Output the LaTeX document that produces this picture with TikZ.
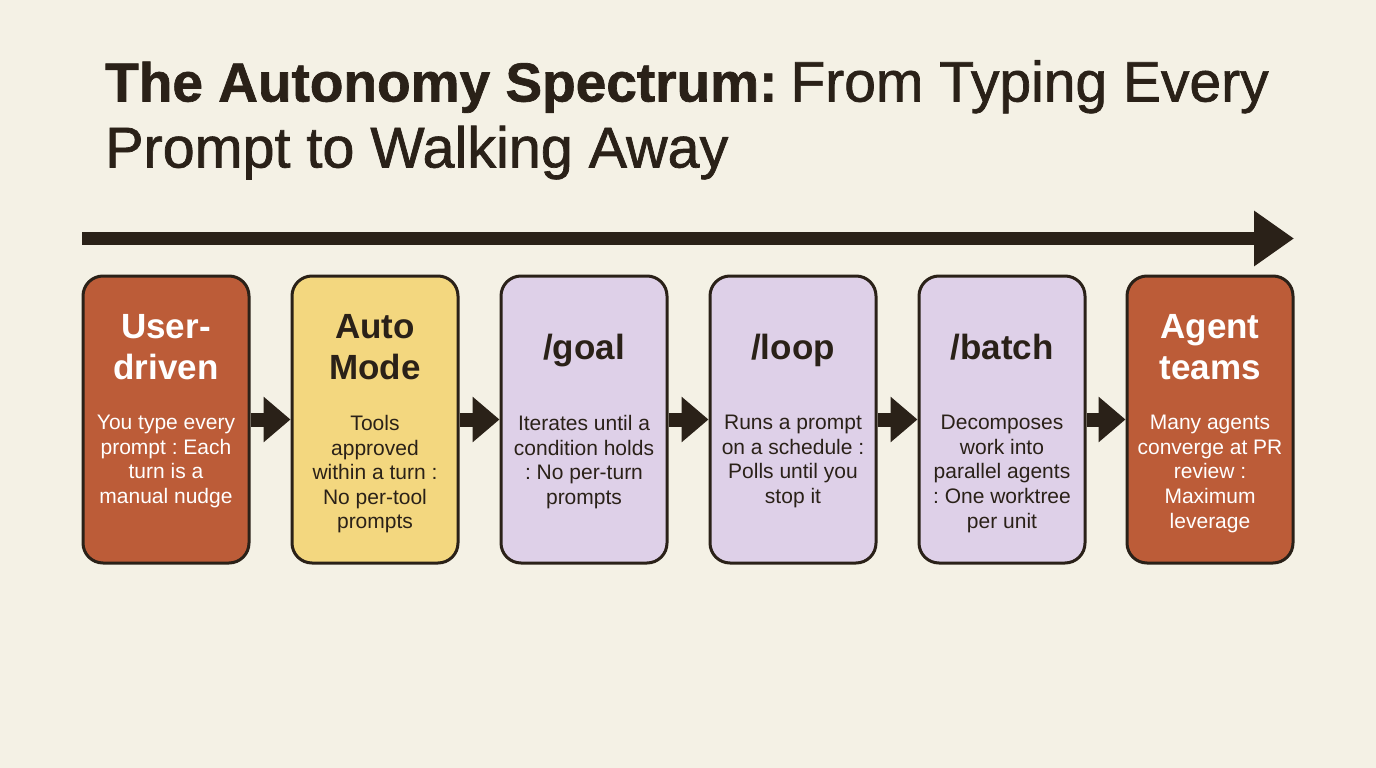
\documentclass[tikz,border=0pt]{standalone}
\usepackage{fontspec}
\setmainfont{Liberation Sans}
\newfontfamily\mediumface[FakeBold=1.2]{Liberation Sans}
\usetikzlibrary{arrows.meta}
\definecolor{paper}{HTML}{F4F1E5}
\definecolor{ink}{HTML}{2A2118}
\definecolor{rust}{HTML}{BC5C38}
\definecolor{butter}{HTML}{F3D77F}
\definecolor{lilac}{HTML}{DED0E8}

\begin{document}
\frenchspacing
\begin{tikzpicture}[x=1pt,y=-1pt,
    card/.style={draw=ink,line width=3pt,rounded corners=20pt,minimum width=166pt,minimum height=287pt,inner sep=0pt},
    head/.style={align=center,font=\fontsize{35}{40.5}\selectfont\bfseries,inner sep=0pt,execute at begin node=\strut,execute at end node=\strut},
    blurb/.style={align=center,anchor=north,font=\fontsize{21}{24.6}\selectfont,inner sep=0pt},
    title/.style={align=left,anchor=north west,text=ink,inner sep=0pt,font=\fontsize{57.5}{66}\selectfont\mediumface},
    step arrow/.style={draw=ink,line width=14pt,-{Triangle[length=27pt,width=44pt]}},
    ]
    \fill[paper] (0,0) rectangle (1376,768);
    \node[title] (heading) at (105,60) {{\fontsize{55}{66}\selectfont\bfseries The Autonomy Spectrum:}\hspace{-3pt} {\fontsize{57}{66}\selectfont From Typing Every}\\Prompt to Walking Away};
    % spectrum arrow
    \coordinate (spectrumstart) at (82,238.5);
    \coordinate (spectrumend) at (1294,238.5);
    \draw[ink,line width=13pt,-{Triangle[length=40pt,width=53pt]}] (spectrumstart) -- (spectrumend);
    % cards
    \node[card,fill=rust] (user) at (166,419.5) {};
    \node[card,fill=butter] (auto) at (375,419.5) {};
    \node[card,fill=lilac] (goal) at (584,419.5) {};
    \node[card,fill=lilac] (loop) at (793,419.5) {};
    \node[card,fill=lilac] (batch) at (1002,419.5) {};
    \node[card,fill=rust] (teams) at (1210,419.5) {};
    % headings
    \node[head,text=white] (userhead) at (166,353) {User-\\driven};
    \node[head,text=ink] (autohead) at (375,353) {Auto\\Mode};
    \node[head,text=ink] (goalhead) at (584,351) {/goal};
    \node[head,text=ink] (loophead) at (793,351) {/loop};
    \node[head,text=ink] (batchhead) at (1002,351) {/batch};
    \node[head,text=white] (teamshead) at (1210,353) {Agent\\teams};
    % descriptions
    \node[blurb,text=white] (userblurb) at (166,415) {You type every\\prompt : Each\\turn is a\\manual nudge};
    \node[blurb,text=ink] (autoblurb) at (375,415) {Tools\\approved\\within a turn :\\No per-tool\\prompts};
    \node[blurb,text=ink] (goalblurb) at (584,415) {Iterates until a\\condition holds\\: No per-turn\\prompts};
    \node[blurb,text=ink] (loopblurb) at (793,415) {Runs a prompt\\on a schedule :\\Polls until you\\stop it};
    \node[blurb,text=ink] (batchblurb) at (1002,415) {Decomposes\\work into\\parallel agents\\: One worktree\\per unit};
    \node[blurb,text=white] (teamsblurb) at (1210,415) {Many agents\\converge at PR\\review :\\Maximum\\leverage};
    % connectors
    \draw[step arrow] (user) -- (auto);
    \draw[step arrow] (auto) -- (goal);
    \draw[step arrow] (goal) -- (loop);
    \draw[step arrow] (loop) -- (batch);
    \draw[step arrow] (batch) -- (teams);
\end{tikzpicture}
\end{document}
